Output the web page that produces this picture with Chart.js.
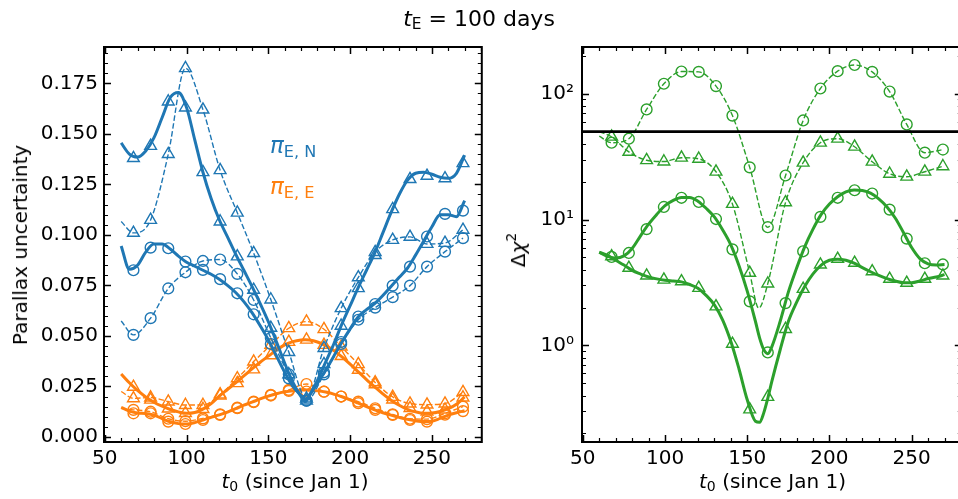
<!DOCTYPE html>
<html>
<head>
<meta charset="utf-8">
<script src="https://cdn.jsdelivr.net/npm/chart.js@4.4.1/dist/chart.umd.min.js"></script>
<style>
html, body { margin: 0; padding: 0; background: #fff; overflow: hidden; }
#fig { position: relative; width: 958px; height: 499px; overflow: hidden;
       font-family: "DejaVu Sans", sans-serif; color: #000; }
#fig canvas { position: absolute; top: 0; }
.txt { position: absolute; white-space: nowrap; line-height: 0; }
.sub { font-size: 70%; position: relative; top: 0.22em; }
.sup { font-size: 70%; position: relative; top: -0.62em; }
.rot { transform-origin: 0 0; transform: rotate(-90deg) translateX(-50%); }
</style>
</head>
<body>
<div id="fig">
  <canvas id="leftChart" width="490" height="499" style="left:0"></canvas>
  <canvas id="rightChart" width="480" height="499" style="left:490px"></canvas>

  <div class="txt" style="left:479px; top:19px; font-size:22px; transform:translateX(-50%)"><i>t</i><span class="sub">E</span> = 100 days</div>

  <div class="txt" style="left:270px; top:145px; font-size:23px; color:#1f77b4"><i>π</i><span class="sub">E, N</span></div>
  <div class="txt" style="left:270px; top:186px; font-size:23px; color:#ff7f0e"><i>π</i><span class="sub">E, E</span></div>

  <div class="txt rot" style="left:19.6px; top:244.5px; font-size:20px">Parallax uncertainty</div>
  <div class="txt rot" style="left:518px; top:250px; font-size:20px">Δ<i>χ</i><span class="sup">2</span></div>

  <div class="txt" style="left:295px; top:481px; font-size:20px; transform:translateX(-50%)"><i>t</i><span class="sub">0</span> (since Jan 1)</div>
  <div class="txt" style="left:772.5px; top:481px; font-size:20px; transform:translateX(-50%)"><i>t</i><span class="sub">0</span> (since Jan 1)</div>
</div>

<script>
// sample epochs carrying markers, and the start of the dashed curves
const T_MARK = [67.5, 78, 88.8, 99.3, 110, 120.5, 131, 141, 151.5, 162.5,
                173.3, 184, 194.5, 205, 215.3, 226, 236.6, 247, 258, 269];
const T_DASH = [60].concat(T_MARK);

// grids of the smooth model curves
const T_FINE_L = [60, 65, 70, 75, 80, 85, 90, 95, 100, 105, 110, 115, 120, 125, 130,
                  135, 140, 145, 150, 155, 160, 165, 170, 172.5, 175, 180, 185, 190,
                  195, 200, 205, 210, 215, 220, 225, 230, 235, 240, 245, 250, 255,
                  260, 265, 270];
const T_FINE_R = [60, 65, 70, 75, 80, 85, 90, 95, 100, 105, 110, 115, 120, 125, 130,
                  135, 140, 145, 150, 155, 157.5, 160, 162.5, 165, 170, 175, 180, 185,
                  190, 195, 200, 205, 210, 215, 220, 225, 230, 235, 240, 245, 250,
                  255, 260, 265, 270];

// ---- pi_E,N (blue) ----
const nTriLine = [0.1455, 0.1400, 0.1385, 0.1415, 0.1480, 0.1580, 0.1680, 0.1705, 0.1630, 0.1470,
                  0.1310, 0.1180, 0.1075, 0.0990, 0.0905, 0.0825, 0.0745, 0.0660, 0.0570, 0.0470,
                  0.0365, 0.0270, 0.0200, 0.0175, 0.0205, 0.0280, 0.0370, 0.0460, 0.0560, 0.0650,
                  0.0740, 0.0825, 0.0910, 0.1010, 0.1110, 0.1200, 0.1270, 0.1305, 0.1310, 0.1300,
                  0.1285, 0.1280, 0.1305, 0.1395];
const nCirLine = [0.0945, 0.0830, 0.0850, 0.0915, 0.0955, 0.0955, 0.0930, 0.0895, 0.0865, 0.0845,
                  0.0825, 0.0805, 0.0780, 0.0750, 0.0715, 0.0670, 0.0615, 0.0550, 0.0480, 0.0400,
                  0.0320, 0.0250, 0.0205, 0.0185, 0.0205, 0.0265, 0.0330, 0.0400, 0.0470, 0.0535,
                  0.0595, 0.0630, 0.0660, 0.0700, 0.0745, 0.0790, 0.0835, 0.0900, 0.0970, 0.1040,
                  0.1100, 0.1100, 0.1090, 0.1170];
const nTriMk = [0.138, 0.144, 0.166, 0.163, 0.131, 0.1066, 0.0893, 0.0728, 0.054, 0.031,
                0.018, 0.036, 0.055, 0.0736, 0.090, 0.1127, 0.1276, 0.1292, 0.128, 0.1355];
const nCirMk = [0.0825, 0.0937, 0.0934, 0.0868, 0.0827, 0.0781, 0.0711, 0.0607, 0.046, 0.029,
                0.018, 0.032, 0.047, 0.0596, 0.0658, 0.0749, 0.0843, 0.0992, 0.1104, 0.112];
const nTriDash = [0.1066, 0.101, 0.1074, 0.140, 0.1825, 0.162, 0.132, 0.111, 0.091, 0.068, 0.042,
                  0.019, 0.044, 0.0637, 0.079, 0.0915, 0.0975, 0.099, 0.0955, 0.096, 0.1025];
const nCirDash = [0.0574, 0.0505, 0.0588, 0.0735, 0.0815, 0.0871, 0.0878, 0.0807, 0.0678, 0.049, 0.031,
                  0.018, 0.031, 0.046, 0.058, 0.064, 0.0692, 0.0749, 0.0843, 0.0917, 0.0984];

// ---- pi_E,E (orange) ----
const eTriLine = [0.0312, 0.0268, 0.0230, 0.0198, 0.0172, 0.0152, 0.0136, 0.0124, 0.0117, 0.0121,
                  0.0138, 0.0165, 0.0202, 0.0235, 0.0268, 0.0302, 0.0337, 0.0370, 0.0400, 0.0430,
                  0.0456, 0.0472, 0.0480, 0.0481, 0.0480, 0.0470, 0.0452, 0.0428, 0.0396, 0.0360,
                  0.0322, 0.0284, 0.0248, 0.0213, 0.0182, 0.0157, 0.0137, 0.0124, 0.0117, 0.0118,
                  0.0126, 0.0140, 0.0162, 0.0198];
const eCirLine = [0.0147, 0.0128, 0.0119, 0.0116, 0.0108, 0.0091, 0.0075, 0.0066, 0.0064, 0.0071,
                  0.0084, 0.0097, 0.0109, 0.0123, 0.0140, 0.0157, 0.0172, 0.0188, 0.0202, 0.0214,
                  0.0223, 0.0229, 0.0232, 0.0232, 0.0231, 0.0228, 0.0222, 0.0212, 0.0199, 0.0184,
                  0.0167, 0.0150, 0.0134, 0.0120, 0.0108, 0.0097, 0.0087, 0.0080, 0.0076, 0.0078,
                  0.0092, 0.0108, 0.0120, 0.0130];
const eTriMk = [0.0248, 0.0184, 0.0140, 0.0118, 0.0138, 0.0205, 0.0266, 0.0334, 0.0404, 0.0470,
                0.0481, 0.0455, 0.0400, 0.0332, 0.0260, 0.0185, 0.0142, 0.0125, 0.0135, 0.0195];
const eCirMk = [0.0117, 0.0117, 0.0076, 0.0064, 0.0084, 0.0109, 0.0142, 0.0172, 0.0205, 0.0228,
                0.0225, 0.0224, 0.0200, 0.0167, 0.0134, 0.0109, 0.0084, 0.0076, 0.0110, 0.0128];
const eTriDash = [0.0225, 0.0191, 0.0195, 0.0175, 0.0158, 0.0158, 0.0210, 0.0290, 0.0373, 0.0455, 0.0538,
                  0.0571, 0.0533, 0.0447, 0.0360, 0.0270, 0.0198, 0.0165, 0.0160, 0.0165, 0.0222];
const eCirDash = [0.0140, 0.0134, 0.0125, 0.0090, 0.0078, 0.0092, 0.0112, 0.0145, 0.0175, 0.0208, 0.0233,
                  0.0262, 0.0224, 0.0200, 0.0175, 0.0142, 0.0112, 0.0090, 0.0088, 0.0117, 0.0150];

// ---- delta chi^2 (green) ----
const gCirLine = [5.5, 5.1, 4.95, 5.15, 5.9, 7.4, 9.2, 11.0, 12.9, 14.2, 15.0, 15.0, 14.0, 12.3, 10.5,
                  8.3, 6.3, 4.3, 2.7, 1.55, 1.15, 0.93, 0.86, 0.98, 1.55, 2.65, 4.1, 6.1, 8.4, 11.0,
                  13.3, 15.2, 16.6, 17.2, 17.0, 16.2, 14.6, 12.6, 10.3, 7.9, 6.0, 4.9, 4.45, 4.35, 4.4];
const gTriLine = [5.5, 5.2, 4.75, 4.35, 3.95, 3.7, 3.5, 3.38, 3.3, 3.25, 3.2, 3.05, 2.85, 2.5, 2.1,
                  1.6, 1.08, 0.65, 0.37, 0.25, 0.245, 0.29, 0.38, 0.52, 0.92, 1.55, 2.2, 2.95, 3.7, 4.35,
                  4.75, 4.85, 4.75, 4.5, 4.15, 3.85, 3.6, 3.4, 3.25, 3.15, 3.15, 3.25, 3.4, 3.5, 3.65];
const gCirMk = [5.05, 5.43, 8.4, 12.6, 14.9, 13.8, 10.1, 5.8, 2.24, 0.88,
                2.17, 5.6, 10.5, 14.9, 17.1, 16.1, 12.0, 7.06, 4.5, 4.4];
const gTriMk = [5.1, 4.13, 3.59, 3.33, 3.23, 2.86, 2.04, 1.03, 0.31, 0.39,
                1.35, 2.81, 4.39, 4.87, 4.53, 3.88, 3.38, 3.14, 3.38, 3.59];
const gCirDash = [46, 40.8, 43.9, 75, 120, 150, 149, 115, 67, 26, 8.7,
                  22.4, 61.3, 110, 151, 169, 149, 104, 57, 34, 36];
const gTriDash = [50, 45.5, 34.5, 29.6, 28.9, 31, 30.4, 24, 13.3, 3.77, 3.1,
                  13.7, 28.3, 40.8, 43.9, 37.9, 28.8, 23.1, 21.9, 24, 26.5];
const gTriDashDip = { x: 157, y: 1.98 };   // bottom of the dashed dip between samples
const CHI2_LIMIT = 50;

// axis ranges and tick labels
const X_RANGE = [49.5, 280.5];
const X_TICKS = [50, 100, 150, 200, 250];
const Y_RANGE_L = [-0.0025, 0.193];
const Y_TICKS_L = [0, 0.025, 0.05, 0.075, 0.1, 0.125, 0.15, 0.175];
const Y_RANGE_R = [0.171, 235];
const Y_TICKS_R = [1, 10, 100];
const Y_LABELS_R = ['10⁰', '10¹', '10²'];

const BLUE = '#1f77b4', ORANGE = '#ff7f0e', GREEN = '#2ca02c';
const FONT = { family: 'DejaVu Sans', size: 20 };

function pts(xs, ys) {
    return xs.map(function (x, i) { return { x: x, y: ys[i] }; });
}

function curve(data, color, width, dashed) {
    return {
        data: data,
        borderColor: color,
        borderWidth: width,
        borderDash: dashed ? [5.5, 2.4] : [],
        pointRadius: 0,
        cubicInterpolationMode: 'monotone',
        fill: false
    };
}

function markers(ys, color, style) {
    return {
        data: pts(T_MARK, ys),
        showLine: false,
        pointStyle: style,
        pointRadius: style === 'triangle' ? 6.8 : 5.4,
        pointBorderColor: color,
        pointBackgroundColor: 'rgba(0,0,0,0)',
        pointBorderWidth: 1.4,
        borderColor: color
    };
}

// inward ticks on all four sides plus the black frame
function frameTicks(spec) {
    return {
        id: 'frameTicks',
        afterDatasetsDraw: function (chart) {
            var ctx = chart.ctx, a = chart.chartArea;
            var sx = chart.scales.x, sy = chart.scales.y;
            ctx.save();
            ctx.strokeStyle = '#000';
            function draw(xs, ys, len, w) {
                ctx.lineWidth = w;
                ctx.beginPath();
                xs.forEach(function (v) {
                    var p = Math.round(sx.getPixelForValue(v)) + 0.5;
                    ctx.moveTo(p, a.bottom); ctx.lineTo(p, a.bottom - len);
                    ctx.moveTo(p, a.top); ctx.lineTo(p, a.top + len);
                });
                ys.forEach(function (v) {
                    var p = Math.round(sy.getPixelForValue(v)) + 0.5;
                    ctx.moveTo(a.left, p); ctx.lineTo(a.left + len, p);
                    ctx.moveTo(a.right, p); ctx.lineTo(a.right - len, p);
                });
                ctx.stroke();
            }
            draw(spec.xMinor, spec.yMinor, 4, 1.2);
            draw(spec.xMajor, spec.yMajor, 7, 1.5);
            ctx.lineWidth = 2;
            ctx.strokeRect(a.left, a.top, a.right - a.left, a.bottom - a.top);
            ctx.restore();
        }
    };
}

var xMinor = [];
for (var v = 60; v <= 280; v += 10) { if (v % 50 !== 0) xMinor.push(v); }
var yMinorL = [];
for (var k = 1; k <= 38; k++) { if (k % 5 !== 0) yMinorL.push(k * 0.005); }
var yMinorR = [];
[0.1, 1, 10, 100].forEach(function (d) {
    for (var m = 2; m <= 9; m++) {
        var t = m * d;
        if (t > Y_RANGE_R[0] && t < Y_RANGE_R[1]) yMinorR.push(t);
    }
});

function xScale(height) {
    return {
        type: 'linear', min: X_RANGE[0], max: X_RANGE[1],
        grid: { display: false, drawTicks: false },
        border: { display: false },
        ticks: { font: FONT, color: '#000', padding: 5, maxRotation: 0 },
        afterBuildTicks: function (s) { s.ticks = X_TICKS.map(function (t) { return { value: t }; }); },
        afterFit: function (s) { s.height = height; s.paddingLeft = 0; s.paddingRight = 0; }
    };
}

function baseOptions(padRight) {
    return {
        responsive: false,
        animation: false,
        devicePixelRatio: 1,
        layout: { padding: { left: 0, right: padRight, top: 47, bottom: 0 } },
        plugins: { legend: { display: false }, tooltip: { enabled: false } }
    };
}

// left panel: parallax uncertainties
var leftOpts = baseOptions(4);
leftOpts.scales = {
    x: xScale(57),
    y: {
        type: 'linear', min: Y_RANGE_L[0], max: Y_RANGE_L[1],
        grid: { display: false, drawTicks: false },
        border: { display: false },
        ticks: { font: FONT, color: '#000', padding: 6,
                 callback: function (val) { return val.toFixed(3); } },
        afterBuildTicks: function (s) { s.ticks = Y_TICKS_L.map(function (t) { return { value: t }; }); },
        afterFit: function (s) { s.width = 104; s.paddingTop = 0; s.paddingBottom = 0; }
    }
};

new Chart(document.getElementById('leftChart'), {
    type: 'line',
    data: {
        datasets: [
            curve(pts(T_FINE_L, nTriLine), BLUE, 3, false),
            curve(pts(T_FINE_L, nCirLine), BLUE, 3, false),
            markers(nTriMk, BLUE, 'triangle'),
            markers(nCirMk, BLUE, 'circle'),
            curve(pts(T_DASH, nTriDash), BLUE, 1.4, true),
            curve(pts(T_DASH, nCirDash), BLUE, 1.4, true),
            markers(nTriDash.slice(1), BLUE, 'triangle'),
            markers(nCirDash.slice(1), BLUE, 'circle'),
            curve(pts(T_FINE_L, eTriLine), ORANGE, 3, false),
            curve(pts(T_FINE_L, eCirLine), ORANGE, 3, false),
            markers(eTriMk, ORANGE, 'triangle'),
            markers(eCirMk, ORANGE, 'circle'),
            curve(pts(T_DASH, eTriDash), ORANGE, 1.4, true),
            curve(pts(T_DASH, eCirDash), ORANGE, 1.4, true),
            markers(eTriDash.slice(1), ORANGE, 'triangle'),
            markers(eCirDash.slice(1), ORANGE, 'circle')
        ]
    },
    options: leftOpts,
    plugins: [frameTicks({ xMajor: X_TICKS, xMinor: xMinor, yMajor: Y_TICKS_L, yMinor: yMinorL })]
});

// right panel: delta chi^2 on a log axis
var gTriDashPts = pts(T_DASH, gTriDash);
gTriDashPts.splice(10, 0, gTriDashDip);

var rightOpts = baseOptions(7);
rightOpts.scales = {
    x: xScale(57),
    y: {
        type: 'logarithmic', min: Y_RANGE_R[0], max: Y_RANGE_R[1],
        grid: { display: false, drawTicks: false },
        border: { display: false },
        ticks: { font: FONT, color: '#000', padding: 8,
                 callback: function (val) { var i = Y_TICKS_R.indexOf(val); return i < 0 ? '' : Y_LABELS_R[i]; } },
        afterBuildTicks: function (s) { s.ticks = Y_TICKS_R.map(function (t) { return { value: t }; }); },
        afterFit: function (s) { s.width = 92; s.paddingTop = 0; s.paddingBottom = 0; }
    }
};

new Chart(document.getElementById('rightChart'), {
    type: 'line',
    data: {
        datasets: [
            curve([{ x: X_RANGE[0], y: CHI2_LIMIT }, { x: X_RANGE[1], y: CHI2_LIMIT }], '#000', 2.8, false),
            curve(pts(T_FINE_R, gCirLine), GREEN, 3, false),
            curve(pts(T_FINE_R, gTriLine), GREEN, 3, false),
            markers(gCirMk, GREEN, 'circle'),
            markers(gTriMk, GREEN, 'triangle'),
            curve(pts(T_DASH, gCirDash), GREEN, 1.4, true),
            curve(gTriDashPts, GREEN, 1.4, true),
            markers(gCirDash.slice(1), GREEN, 'circle'),
            markers(gTriDash.slice(1), GREEN, 'triangle')
        ]
    },
    options: rightOpts,
    plugins: [frameTicks({ xMajor: X_TICKS, xMinor: xMinor, yMajor: Y_TICKS_R, yMinor: yMinorR })]
});
</script>
</body>
</html>
